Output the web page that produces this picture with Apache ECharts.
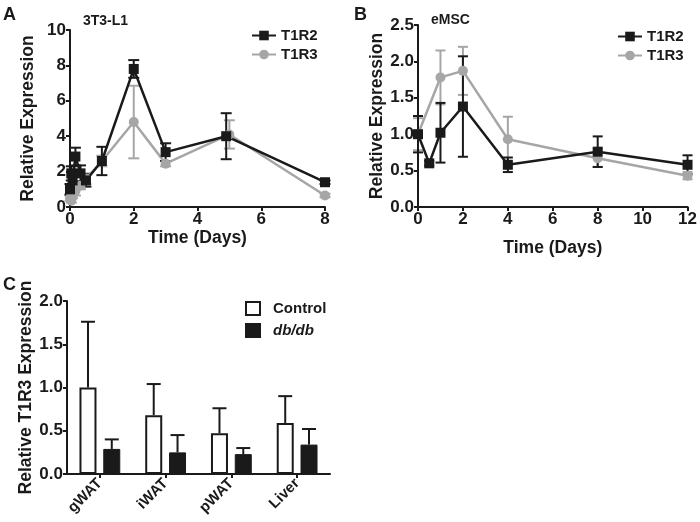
<!DOCTYPE html>
<html><head><meta charset="utf-8">
<script src="https://cdn.jsdelivr.net/npm/echarts@6/dist/echarts.min.js"></script>
<style>html,body{margin:0;padding:0;background:#fff}#c{width:700px;height:522px}</style>
</head><body><div id="c"></div>
<script>
// Panel A: 3T3-L1
const aTimesR2 = [0, 0.04, 0.08, 0.17, 0.33, 0.5, 1, 2, 3, 4.9, 8];
const aT1R2 = [1.0, 1.9, 1.5, 2.85, 1.9, 1.5, 2.6, 7.8, 3.1, 4.0, 1.4];
const aT1R2Err = [0.3, 0.4, 0.4, 0.5, 0.45, 0.35, 0.8, 0.5, 0.5, 1.3, 0.1];
const aTimesR3 = [0, 0.04, 0.08, 0.17, 0.33, 0.5, 1, 2, 3, 5, 8];
const aT1R3 = [0.5, 0.35, 0.7, 0.9, 1.2, 1.6, 2.6, 4.8, 2.45, 4.1, 0.65];
const aT1R3Err = [0.15, 0.1, 0.2, 0.25, 0.2, 0.3, 0.3, 2.05, 0.15, 0.8, 0.1];
// Panel B: eMSC
const bTimesR2 = [0, 0.5, 1, 2, 4, 8, 12];
const bT1R2 = [1.0, 0.6, 1.02, 1.38, 0.58, 0.76, 0.58];
const bT1R2Err = [0.25, 0.03, 0.41, 0.69, 0.1, 0.21, 0.13];
const bTimesR3 = [0, 1, 2, 4, 8, 12];
const bT1R3 = [1.0, 1.78, 1.87, 0.93, 0.67, 0.43];
const bT1R3Err = [0.22, 0.37, 0.33, 0.31, 0.12, 0.05];
// Panel C
const cCategories = ['gWAT', 'iWAT', 'pWAT', 'Liver'];
const cControl = [1.0, 0.68, 0.47, 0.59];
const cControlErr = [0.76, 0.36, 0.29, 0.31];
const cDb = [0.29, 0.25, 0.23, 0.34];
const cDbErr = [0.11, 0.2, 0.07, 0.18];
const aXTicks = {min: 0, max: 8, interval: 2};
const aYTicks = {min: 0, max: 10, interval: 2};
const bXTicks = {min: 0, max: 12, interval: 2};
const bYTicks = {min: 0, max: 2.5, interval: 0.5};
const cYTicks = {min: 0, max: 2.0, interval: 0.5};

const FONT = 'Liberation Sans, Arial, sans-serif';
const INK = '#1a1a1a';
const GRAY = '#a6a6a6';

const chart = echarts.init(document.getElementById('c'), null, {renderer: 'canvas'});

function valAxis(idx, ticks, name, nameGap, fmt) {
  return {
    type: 'value', gridIndex: idx, min: ticks.min, max: ticks.max, interval: ticks.interval,
    name: name, nameLocation: 'middle', nameGap: nameGap,
    nameTextStyle: {fontFamily: FONT, fontWeight: 'bold', fontSize: 17.5, color: INK},
    axisLine: {show: true, onZero: false, lineStyle: {color: INK, width: 2}},
    axisTick: {show: true, length: 4, lineStyle: {color: INK, width: 2}},
    axisLabel: {fontFamily: FONT, fontWeight: 'bold', fontSize: 17, color: INK, margin: 4,
      formatter: fmt || (v => String(v))},
    splitLine: {show: false}
  };
}

function errSeries(name, xi, yi, xs, ys, errs, color, capHalf, offset, upOnly) {
  return {
    type: 'custom', name: name, xAxisIndex: xi, yAxisIndex: yi, z: 1,
    data: xs.map((x, i) => [x, ys[i], errs[i]]),
    renderItem: function (params, api) {
      const x = api.value(0), y = api.value(1), e = api.value(2);
      const top = api.coord([x, y + e]);
      const bot = upOnly ? api.coord([x, y]) : api.coord([x, y - e]);
      const dx = offset || 0;
      const tx = top[0] + dx;
      const st = {stroke: color, lineWidth: 2};
      const ch = [
        {type: 'line', shape: {x1: tx, y1: top[1], x2: tx, y2: bot[1]}, style: st},
        {type: 'line', shape: {x1: tx - capHalf, y1: top[1], x2: tx + capHalf, y2: top[1]}, style: st}
      ];
      if (!upOnly) ch.push({type: 'line', shape: {x1: tx - capHalf, y1: bot[1], x2: tx + capHalf, y2: bot[1]}, style: st});
      return {type: 'group', children: ch};
    }
  };
}

function lineSeries(name, xi, yi, xs, ys, color, symbol, size) {
  return {
    type: 'line', name: name, xAxisIndex: xi, yAxisIndex: yi, z: 3,
    data: xs.map((x, i) => [x, ys[i]]),
    symbol: symbol, symbolSize: size, showSymbol: true,
    lineStyle: {color: color, width: 2.5},
    itemStyle: {color: color, borderWidth: 0},
    emphasis: {disabled: true}, animation: false
  };
}

const fmt1 = v => v.toFixed(1);
const legendText = {fontFamily: FONT, fontWeight: 'bold', fontSize: 15, color: INK};

const option = {
  animation: false,
  backgroundColor: '#fff',
  grid: [
    {left: 70, top: 30, width: 255, height: 177},
    {left: 418, top: 25, width: 272, height: 182},
    {left: 67, top: 301, width: 263, height: 173}
  ],
  xAxis: [
    valAxis(0, aXTicks, 'Time (Days)', 22),
    valAxis(1, bXTicks, 'Time (Days)', 32),
    {
      type: 'category', gridIndex: 2, data: cCategories,
      axisLine: {show: true, lineStyle: {color: INK, width: 2}},
      axisTick: {show: true, alignWithLabel: true, length: 4, lineStyle: {color: INK, width: 2}},
      axisLabel: {rotate: 45, fontFamily: FONT, fontWeight: 'bold', fontSize: 15, color: INK, margin: 7, interval: 0}
    }
  ],
  yAxis: [
    valAxis(0, aYTicks, 'Relative Expression', 33),
    valAxis(1, bYTicks, 'Relative Expression', 31, fmt1),
    valAxis(2, cYTicks, 'Relative T1R3 Expression', 31, fmt1)
  ],
  legend: [
    {
      data: ['T1R2', 'T1R3'], orient: 'vertical', left: 246, top: 23, itemGap: 4,
      itemWidth: 24, itemHeight: 12, selectedMode: false, textStyle: legendText
    },
    {
      data: ['T1R2 ', 'T1R3 '], orient: 'vertical', left: 612, top: 24, itemGap: 4,
      itemWidth: 24, itemHeight: 12, selectedMode: false,
      formatter: n => n.trim(), textStyle: legendText
    },
    {
      data: ['Control', 'db/db'], orient: 'vertical', left: 240, top: 296, itemGap: 7,
      itemWidth: 14, itemHeight: 13, selectedMode: false, icon: 'rect',
      formatter: n => n === 'db/db' ? '{i|db/db}' : n,
      textStyle: Object.assign({}, legendText, {padding: [0, 0, 0, 8],
        rich: {i: {fontFamily: FONT, fontWeight: 'bold', fontStyle: 'italic', fontSize: 15, color: INK}}})
    }
  ],
  graphic: [
    {type: 'text', left: 3, top: 6, style: {text: 'A', font: 'bold 18px ' + FONT, fill: INK}},
    {type: 'text', left: 354, top: 6, style: {text: 'B', font: 'bold 18px ' + FONT, fill: INK}},
    {type: 'text', left: 3, top: 276, style: {text: 'C', font: 'bold 18px ' + FONT, fill: INK}},
    {type: 'text', left: 83, top: 14, style: {text: '3T3-L1', font: 'bold 14px ' + FONT, fill: INK}},
    {type: 'text', left: 431, top: 13, style: {text: 'eMSC', font: 'bold 14px ' + FONT, fill: INK}}
  ],
  series: [
    errSeries('errA3', 0, 0, aTimesR3, aT1R3, aT1R3Err, GRAY, 5.5),
    lineSeries('T1R3', 0, 0, aTimesR3, aT1R3, GRAY, 'circle', 10),
    errSeries('errA2', 0, 0, aTimesR2, aT1R2, aT1R2Err, INK, 5.5),
    lineSeries('T1R2', 0, 0, aTimesR2, aT1R2, INK, 'rect', 10),
    errSeries('errB3', 1, 1, bTimesR3, bT1R3, bT1R3Err, GRAY, 5),
    lineSeries('T1R3 ', 1, 1, bTimesR3, bT1R3, GRAY, 'circle', 10),
    errSeries('errB2', 1, 1, bTimesR2, bT1R2, bT1R2Err, INK, 5),
    lineSeries('T1R2 ', 1, 1, bTimesR2, bT1R2, INK, 'rect', 10),
    {
      type: 'bar', name: 'Control', xAxisIndex: 2, yAxisIndex: 2, data: cControl,
      barWidth: 17, barGap: '40%', z: 2,
      itemStyle: {color: '#fff', borderColor: INK, borderWidth: 2}
    },
    {
      type: 'bar', name: 'db/db', xAxisIndex: 2, yAxisIndex: 2, data: cDb,
      barWidth: 17, barGap: '40%', z: 2,
      itemStyle: {color: INK, borderColor: INK, borderWidth: 1}
    },
    errSeries('errC1', 2, 2, cCategories.map((c, i) => i), cControl, cControlErr, INK, 7, -11.9, true),
    errSeries('errC2', 2, 2, cCategories.map((c, i) => i), cDb, cDbErr, INK, 7, 11.9, true)
  ]
};
chart.setOption(option);
</script></body></html>
